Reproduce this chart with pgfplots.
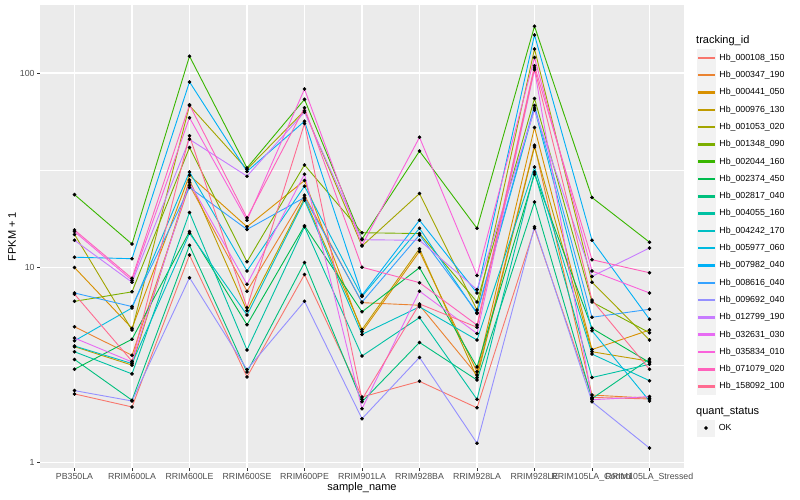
\documentclass[border=0pt]{standalone}
\usepackage{pgfplots}
\pgfplotsset{compat=1.18}
\usepackage{pgfplotstable}
\usepackage{fontspec}
\setmainfont{Liberation Sans}

\definecolor{c1}{HTML}{F8766D}
\definecolor{c2}{HTML}{EA8331}
\definecolor{c3}{HTML}{D89000}
\definecolor{c4}{HTML}{C09B00}
\definecolor{c5}{HTML}{A3A500}
\definecolor{c6}{HTML}{7CAE00}
\definecolor{c7}{HTML}{39B600}
\definecolor{c8}{HTML}{00BB4E}
\definecolor{c9}{HTML}{00BF7D}
\definecolor{c10}{HTML}{00C1A3}
\definecolor{c11}{HTML}{00BFC4}
\definecolor{c12}{HTML}{00BAE0}
\definecolor{c13}{HTML}{00B0F6}
\definecolor{c14}{HTML}{35A2FF}
\definecolor{c15}{HTML}{9590FF}
\definecolor{c16}{HTML}{C77CFF}
\definecolor{c17}{HTML}{E76BF3}
\definecolor{c18}{HTML}{FA62DB}
\definecolor{c19}{HTML}{FF62BC}
\definecolor{c20}{HTML}{FF6C91}
\definecolor{panelbg}{HTML}{EBEBEB}
\definecolor{keybg}{HTML}{F2F2F2}
\definecolor{ticktext}{HTML}{4D4D4D}
\definecolor{tickcol}{HTML}{333333}

% FPKM + 1, one row per sample, one column per tracking id
\pgfplotstableread{
x  S1    S2    S3    S4    S5    S6    S7    S8    S9    S10   S11   S12   S13   S14   S15   S16   S17   S18   S19   S20
0  2.24  4.96  10.0  3.92  14.8  6.7   23.7  3.0   3.37  3.69  3.95  4.2   11.3  7.4   2.33  13.8  4.34  15.3  15.6  7.3
1  1.92  3.54  4.87  3.15  4.77  7.5   13.2  4.28  2.08  2.84  3.21  6.2   11.1  6.3   2.06  8.4   3.27  8.6   8.8   3.3
2  11.6  26.5  29.8  28.2  68.0  41.4  122   15.3  13.0  19.2  15.0  31    90    25.8  8.87  45.6  27.4  58.9  68.7  47.6
3  2.74  7.55  16.2  6.0   32.0  10.7  32.5  5.08  2.9   3.77  5.7   9.6   31.2  15.7  2.99  29.5  8.2   17.5  18    6.22
4  9.2   23.5  28.0  22.7  64.0  33.7  73.2  16.4  10.6  16.2  22.2  26.2  56.5  22.9  6.7   62.9  30.2  82.7  66.3  55
5  2.16  6.6   4.67  4.8   12.9  15.1  14.0  5.92  2.04  3.51  4.53  7.1   7.2   6.64  1.67  13.9  1.88  13.0  10.04 2.1
6  2.6   6.4   12.1  12.5  24.0  14.95 39.7  9.98  4.12  5.53  6.28  15.9  17.5  14.7  3.45  13.8  7.56  46.7  8.36  6.5
7  1.9   2.80  2.91  2.71  6.05  6.65  15.9  3.08  2.64  2.1   4.24  5.8   7.4   5.88  1.25  7.7   4.58  9.1   5.06  4.93
8  15.9  42.5  52.5  41.7  133   74    174   30.2  21.7  31    32.9  66    157   68    16.2  64.5  104   120   109   106
9  2.15  2.21  3.79  3.69  8.4   6.65  22.9  4.87  2.12  2.72  3.59  4.73  13.8  5.55  2.04  9.0   2.09  9.6   10.97 6.8
10 2.11  2.13  4.77  3.3   4.24  4.62  13.5  3.25  3.39  3.18  2.62  2.06  5.42  6.1   1.18  12.6  2.17  7.4   9.4   3.0
}\fpkm

\begin{document}
\begin{tikzpicture}
\useasboundingbox (0,0) rectangle (800pt,500pt);
\begin{axis}[
    at={(40pt,32pt)}, anchor=south west,
    width=644pt, height=463pt, scale only axis,
    ymode=log,
    xmin=-0.6, xmax=10.6,
    ymin=0.932, ymax=223.7,
    axis background/.style={fill=panelbg},
    axis line style={draw=none},
    xtick={0,...,10},
    xticklabels={PB350LA,RRIM600LA,RRIM600LE,RRIM600SE,RRIM600PE,RRIM901LA,RRIM928BA,RRIM928LA,RRIM928LE,RRIM105LA\_Control,RRIM105LA\_Stressed},
    ytick={1,10,100},
    yticklabels={1,10,100},
    minor ytick={3.1623,31.623},
    xmajorgrids, ymajorgrids, yminorgrids,
    major grid style={white, line width=1.07pt},
    minor grid style={white, line width=0.53pt},
    tick pos=left,
    tick align=outside,
    major tick length=2.75pt,
    minor tick length=0pt,
    tick style={tickcol, line width=0.5pt},
    ticklabel style={font=\fontsize{8.8}{10}\selectfont, text=ticktext},
    xticklabel style={inner sep=0pt, anchor=north, yshift=-2.5pt},
    yticklabel style={inner sep=0pt, anchor=east, xshift=-2.5pt},
    xlabel={sample\_name},
    ylabel={FPKM + 1},
    label style={font=\fontsize{11}{13}\selectfont},
    xlabel style={at={(axis description cs:0.5,-0.0432)}, anchor=center},
    ylabel style={at={(axis description cs:-0.0435,0.5)}, anchor=center},
    legend entries={Hb\_000108\_150,Hb\_000347\_190,Hb\_000441\_050,Hb\_000976\_130,Hb\_001053\_020,Hb\_001348\_090,Hb\_002044\_160,Hb\_002374\_450,Hb\_002817\_040,Hb\_004055\_160,Hb\_004242\_170,Hb\_005977\_060,Hb\_007982\_040,Hb\_008616\_040,Hb\_009692\_040,Hb\_012799\_190,Hb\_032631\_030,Hb\_035834\_010,Hb\_071079\_020,Hb\_158092\_100},
    legend image code/.code={
        \fill[keybg] (0pt,-8.2pt) rectangle (17.28pt,8.2pt);
        \fill[#1] (0.9pt,-0.75pt) rectangle (16.4pt,0.75pt);
    },
    legend style={at={(axis description cs:1.0202,0.905)}, anchor=north west,
        draw=none, fill=none, inner sep=0pt, row sep=0pt, column sep=4pt,
        font=\fontsize{8.8}{10}\selectfont,
        nodes={inner sep=0pt, anchor=west}},
    legend cell align=left,
]
\pgfplotsinvokeforeach{1,...,20}{
    \addplot[color=c#1, line width=0.9pt, mark=none] table[x=x, y=S#1] {\fpkm};
}
\pgfplotsinvokeforeach{1,...,20}{
    \addplot[only marks, mark=*, mark size=1.6pt, black, forget plot] table[x=x, y=S#1] {\fpkm};
}
\end{axis}
\node[anchor=west, inner sep=0pt, font=\fontsize{11}{13}\selectfont] at (696pt,459.3pt) {tracking\_id};
\node[anchor=west, inner sep=0pt, font=\fontsize{11}{13}\selectfont] at (696pt,88pt) {quant\_status};
\begin{axis}[
    at={(697pt,63.36pt)}, anchor=south west,
    width=17.28pt, height=17.28pt, scale only axis,
    hide axis, xmin=0, xmax=1, ymin=0, ymax=1,
    legend image code/.code={
        \fill[keybg] (0pt,-8.2pt) rectangle (17.28pt,8.2pt);
        \fill[black] (8.64pt,0pt) circle (1.6pt);
    },
    legend style={at={(0,1)}, anchor=north west,
        draw=none, fill=none, inner sep=0pt, column sep=4pt,
        font=\fontsize{8.8}{10}\selectfont,
        nodes={inner sep=0pt, anchor=west}},
]
\addlegendimage{black}
\addlegendentry{OK}
\end{axis}
\end{tikzpicture}
\end{document}
